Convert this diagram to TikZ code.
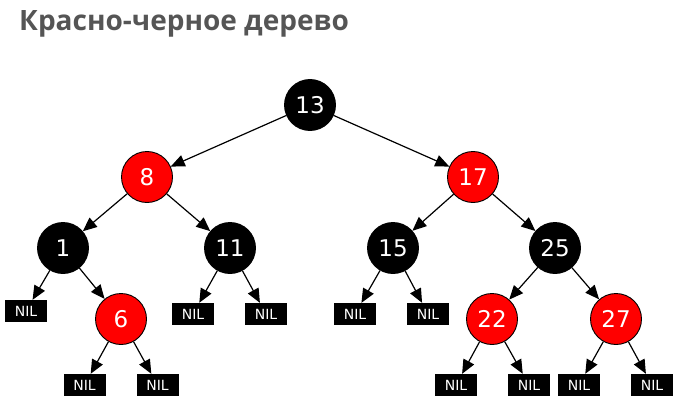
\documentclass[tikz,border=0pt]{standalone}
\usepackage{fontspec}
\setmainfont{DejaVu Sans}
\newfontfamily\titlefont{Open Sans}
\usetikzlibrary{arrows.meta}
\definecolor{titlegray}{HTML}{555555}
\definecolor{rbred}{HTML}{FF0000}
\begin{document}
\begin{tikzpicture}[x=1pt,y=-1pt,
  rb/.style={circle,draw=black,line width=0.9pt,minimum size=51pt,inner sep=0pt,text=white,font=\fontsize{23}{23}\selectfont},
  blk/.style={rb,fill=black},
  rd/.style={rb,fill=rbred},
  nil/.style={rectangle,fill=black,minimum width=42pt,minimum height=22pt,inner sep=0pt,text=white,font=\fontsize{14}{14}\selectfont},
  edge/.style={line width=1.2pt,-{Triangle[length=14pt,width=12pt]}}]
\useasboundingbox (0,0) rectangle (684,409);
\node[anchor=west,text=titlegray,font=\titlefont\bfseries\fontsize{28}{28}\selectfont,inner sep=0pt] (title) at (19,24) {Красно-черное дерево};
\node[blk] (n13) at (310,105) {13};
\node[rd] (n8) at (147,177) {8};
\node[rd] (n17) at (473,177) {17};
\node[blk] (n1) at (63,248) {1};
\node[blk] (n11) at (230,248) {11};
\node[blk] (n15) at (393,248) {15};
\node[blk] (n25) at (555,248) {25};
\node[rd] (n6) at (121,319) {6};
\node[rd] (n22) at (492,319) {22};
\node[rd] (n27) at (616,319) {27};
\node[nil] (a1) at (26,311) {NIL};
\node[nil] (a2) at (84.5,385) {NIL};
\node[nil] (a3) at (157.5,385) {NIL};
\node[nil] (a4) at (193,314) {NIL};
\node[nil] (a5) at (266,314) {NIL};
\node[nil] (a6) at (355,314) {NIL};
\node[nil] (a7) at (428,314) {NIL};
\node[nil] (a8) at (456,385) {NIL};
\node[nil] (a9) at (529,385) {NIL};
\node[nil] (a10) at (579,385) {NIL};
\node[nil] (a11) at (652,385) {NIL};
\draw[edge] (n13) -- (n8);
\draw[edge] (n13) -- (n17);
\draw[edge] (n8) -- (n1);
\draw[edge] (n8) -- (n11);
\draw[edge] (n17) -- (n15);
\draw[edge] (n17) -- (n25);
\draw[edge] (n1) -- (a1);
\draw[edge] (n1) -- (n6);
\draw[edge] (n6) -- (a2);
\draw[edge] (n6) -- (a3);
\draw[edge] (n11) -- (a4);
\draw[edge] (n11) -- (a5);
\draw[edge] (n15) -- (a6);
\draw[edge] (n15) -- (a7);
\draw[edge] (n25) -- (n22);
\draw[edge] (n25) -- (n27);
\draw[edge] (n22) -- (a8);
\draw[edge] (n22) -- (a9);
\draw[edge] (n27) -- (a10);
\draw[edge] (n27) -- (a11);
\end{tikzpicture}
\end{document}
